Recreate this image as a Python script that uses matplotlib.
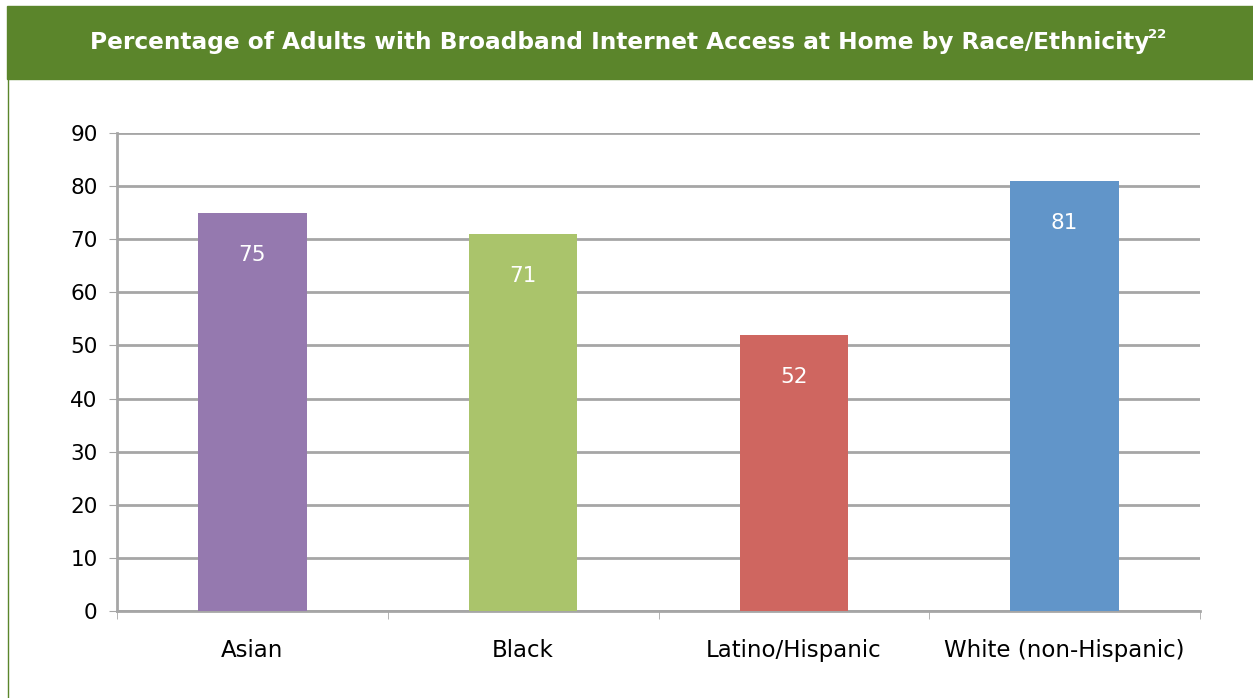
import matplotlib.pyplot as plt
from matplotlib.patches import Rectangle
from matplotlib.lines import Line2D

plt.rcParams['font.family'] = ['DejaVu Sans']

# Chart data
categories = ["Asian", "Black", "Latino/Hispanic", "White (non-Hispanic)"]
values = [75, 71, 52, 81]
colors = ["#9579AF", "#AAC46B", "#CF6660", "#6195C9"]
yticks = [0, 10, 20, 30, 40, 50, 60, 70, 80, 90]
title = "Percentage of Adults with Broadband Internet Access at Home by Race/Ethnicity"
footnote = "22"

W, H = 1253, 698
fig = plt.figure(figsize=(W / 100, H / 100), dpi=100)

# Green header band and left border line
fig.patches.append(Rectangle((7 / W, 1 - 79 / H), 1 - 7 / W, 73 / H,
                             transform=fig.transFigure, color="#5B852B", zorder=0))
fig.lines.append(Line2D([8 / W, 8 / W], [0, 1 - 79 / H], transform=fig.transFigure,
                        color="#5B852B", lw=1))
t = fig.text(90 / W, 1 - 42 / H, title, color="white", fontsize=14, fontweight="bold",
             ha="left", va="center")
fig.canvas.draw()
# stretch the title to span the same width as the original header text
bb = t.get_window_extent()
t.set_fontsize(14 * (1150 - 90) / bb.width)
fig.canvas.draw()
bb = t.get_window_extent()
fig.text(bb.x1 / W - 1 / W, 1 - 35 / H, footnote, color="white", fontsize=9.5,
         fontweight="bold", ha="left", va="center")

# Plot area
ax = fig.add_axes([117 / W, 1 - 611 / H, (1200 - 117) / W, (611 - 133) / H])
x = range(len(categories))
bars = ax.bar(x, values, width=0.4, color=colors, zorder=3)

for i, v in enumerate(values):
    ax.text(i, v - 8, str(v), ha="center", va="center", color="white", fontsize=15.5)

ax.set_xlim(-0.5, len(categories) - 0.5)
ax.set_ylim(0, 90)
ax.set_yticks(yticks)
ax.set_xticks(list(x))
ax.set_xticklabels(categories, fontsize=16.5)
ax.tick_params(axis="y", labelsize=15.5, length=6, color="#A6A6A6", pad=8)
ax.tick_params(axis="x", length=0, pad=20)
ax.set_xticks([i + 0.5 for i in range(-1, len(categories))], minor=True)
ax.tick_params(axis="x", which="minor", length=6, color="#A6A6A6", direction="out")

ax.grid(axis="y", color="#A6A6A6", lw=2, zorder=0)
for side in ["top", "right"]:
    ax.spines[side].set_visible(False)
for side in ["left", "bottom"]:
    ax.spines[side].set_color("#A6A6A6")
    ax.spines[side].set_linewidth(2)

fig.savefig("out.png", dpi=100)
